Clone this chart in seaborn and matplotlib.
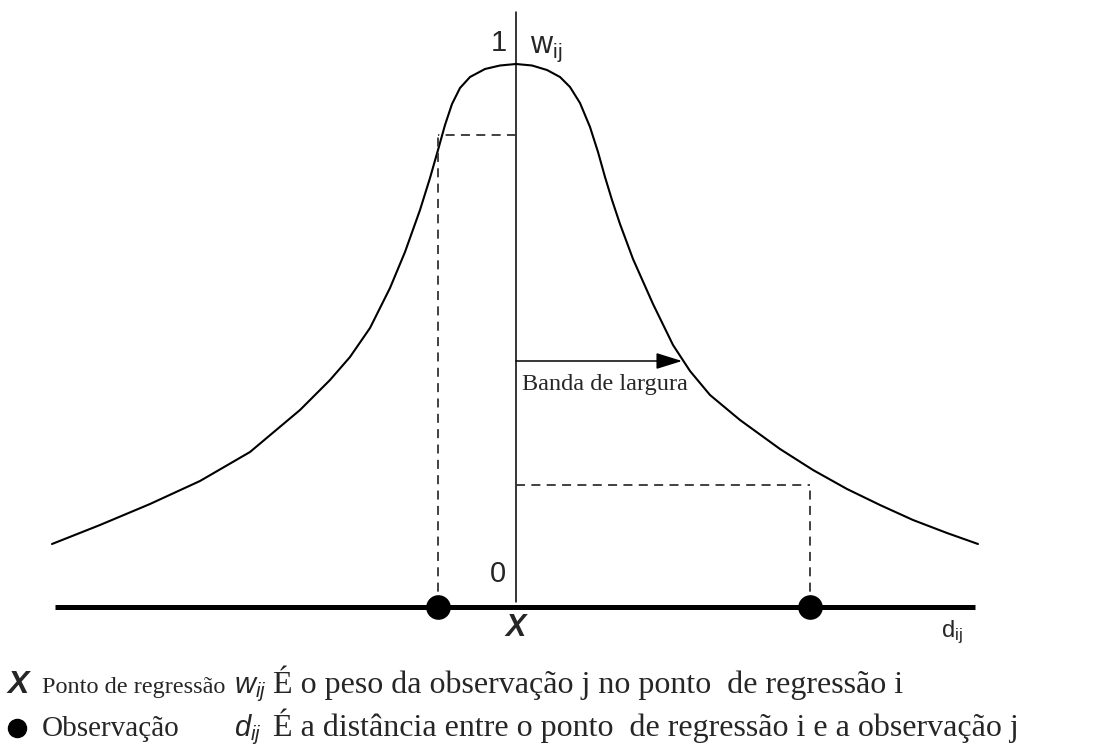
import matplotlib
matplotlib.use("Agg")
import matplotlib.pyplot as plt
import seaborn as sns

# kernel curve:
# distance from the regression point (px) and weight height above the baseline (px)
curve_d = [-464, -416, -366, -316, -266, -216, -186, -166, -146, -126, -111, -96,
           -86, -78, -71, -64, -56, -46, -31, -16, 0, 16, 31, 44, 54, 64, 74,
           82, 89, 96, 104, 117, 137, 157, 174, 194, 224, 264, 297, 331, 364,
           397, 431, 462]
curve_w = [63, 82, 103, 126, 155, 197, 227, 250, 279, 319, 355, 397,
           429, 457, 482, 503, 519, 530, 538, 541.5, 543, 541.5, 537, 530, 520, 504, 480,
           455, 430, 407, 383, 348, 303, 262, 236, 212, 187, 158, 137, 118, 102,
           87, 74, 63]

# the two observations and their weights
obs_d = [-78, 294]
obs_w = [472, 122]

# bandwidth arrow
band_len = 166
band_level = 246

axis_top = 595
line_left, line_right = -461, 459

sns.set_theme(style="white")
plt.rcParams["font.family"] = ["Liberation Sans", "DejaVu Sans"]
plt.rcParams["mathtext.fontset"] = "custom"
plt.rcParams["mathtext.rm"] = "Liberation Sans"
plt.rcParams["mathtext.it"] = "Liberation Sans:italic"

fig = plt.figure(figsize=(11.12, 7.49), dpi=100)
ax = fig.add_axes([0, 0, 1, 1])
ax.set_xlim(-516, 596)
ax.set_ylim(-142, 607)
ax.axis("off")

# kernel curve
sns.lineplot(x=curve_d, y=curve_w, ax=ax, color="black", lw=1.5,
             sort=False, estimator=None, legend=False)

# vertical axis and distance axis
ax.plot([0, 0], [5, axis_top], color="black", lw=1.1)
ax.plot([line_left, line_right], [0, 0], color="black", lw=3.6, solid_capstyle="butt")

# dashed guides from each observation to its weight
for d, w in zip(obs_d, obs_w):
    ax.plot([d, d], [0, w], color="#333333", lw=1.3, ls=(0, (5, 3.5)))
    ax.plot([0, d], [w, w], color="#333333", lw=1.3, ls=(0, (5, 3.5)))

sns.scatterplot(x=obs_d, y=[0] * len(obs_d), ax=ax, s=270, color="black",
                edgecolor="black", zorder=5, legend=False)

# bandwidth arrow
ax.annotate("", xy=(band_len, band_level), xytext=(0, band_level),
            arrowprops=dict(arrowstyle="-|>,head_length=0.8,head_width=0.25",
                            color="black", lw=1.1, mutation_scale=20,
                            shrinkA=0, shrinkB=0))
ax.text(6, 217, "Banda de largura", family="Liberation Serif", fontsize=17.5,
        va="baseline", ha="left")

# axis labels
ax.text(-17, 564, "1", fontsize=21, ha="center", va="center")
ax.text(14, 554, r"w$_{\mathregular{ij}}$", fontsize=22, ha="left", va="baseline")
ax.text(0, -21, "X", fontsize=22, fontweight="bold", style="italic",
        ha="center", va="center")
ax.text(-18, 33, "0", fontsize=21, ha="center", va="center")
ax.text(425, -30, r"d$_{\mathregular{ij}}$", fontsize=17, ha="left", va="baseline")

# key under the chart
row1, row2 = -86, -129
ax.text(-509, row1, "X", fontsize=23, fontweight="bold", style="italic",
        ha="left", va="baseline")
ax.text(-474, row1, "Ponto de regressão", family="Liberation Serif", fontsize=17.5,
        ha="left", va="baseline")
ax.plot([-499], [row2 + 8], marker="o", ms=13, color="black")
ax.text(-474, row2, "Observação", family="Liberation Serif", fontsize=21,
        ha="left", va="baseline")
ax.text(-282, row1, r"$\mathit{w}_{\mathit{ij}}$", fontsize=21,
        ha="left", va="baseline")
ax.text(-282, row2, r"$\mathit{d}_{\mathit{ij}}$", fontsize=21,
        ha="left", va="baseline")
ax.text(-243, row1, "É o peso da observação j no ponto  de regressão i",
        family="Liberation Serif", fontsize=23, ha="left", va="baseline")
ax.text(-243, row2, "É a distância entre o ponto  de regressão i e a observação j",
        family="Liberation Serif", fontsize=23, ha="left", va="baseline")

fig.savefig("out.png", dpi=100, facecolor="white")
